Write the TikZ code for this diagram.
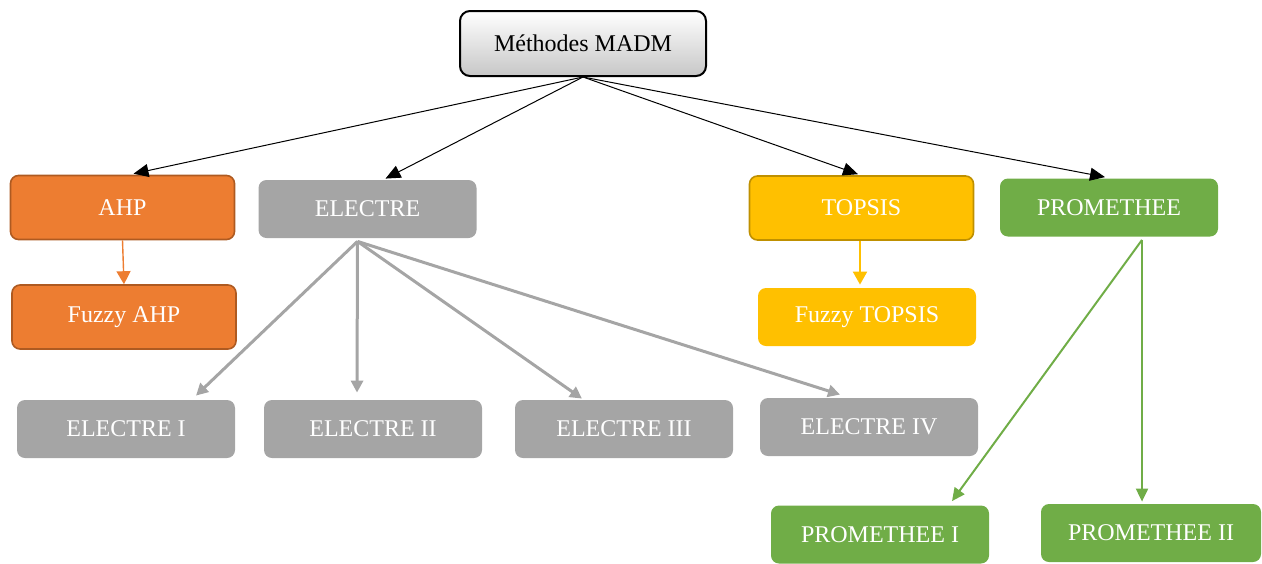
\documentclass[tikz,border=0pt]{standalone}
\usepackage{fontspec}
\setmainfont{Liberation Serif}
\usetikzlibrary{arrows.meta,calc,positioning}
\definecolor{orangeF}{HTML}{ED7D31}
\definecolor{orangeD}{HTML}{AE5A21}
\definecolor{grayF}{HTML}{A5A5A5}
\definecolor{yellowF}{HTML}{FFC000}
\definecolor{yellowD}{HTML}{BF9000}
\definecolor{greenF}{HTML}{70AD47}
\tikzset{
  box/.style={rounded corners=4pt, minimum width=#1, inner sep=0pt, font=\fontsize{12}{14}\selectfont, text=white},
  box/.default=109pt,
  orangebox/.style={box=112pt, fill=orangeF, draw=orangeD, line width=0.8pt, minimum height=32pt},
  graybox/.style={box=109pt, fill=grayF, minimum height=29pt},
  yellowbox/.style={box=112pt, fill=yellowF, draw=yellowD, line width=0.8pt, minimum height=32pt},
  yellowflat/.style={box=109pt, fill=yellowF, minimum height=29pt},
  greenbox/.style={box=109pt, fill=greenF, minimum height=29pt},
  topbox/.style={rounded corners=5pt, draw=black, line width=1pt, top color=white, middle color=black!3, bottom color=black!22, minimum width=123pt, minimum height=32.5pt, font=\fontsize{12}{14}\selectfont, text=black},
  blackarrow/.style={draw=black, line width=0.5pt, -{Triangle[length=7.5pt,width=6.5pt]}},
  orangearrow/.style={draw=orangeF, line width=0.7pt, -{Triangle[length=6.5pt,width=7pt]}},
  grayarrow/.style={draw=grayF, line width=1.5pt, -{Triangle[length=6pt,width=6pt]}},
  yellowarrow/.style={draw=yellowF, line width=1pt, -{Triangle[length=6.5pt,width=7pt]}},
  greenarrow/.style={draw=greenF, line width=1pt, -{Triangle[length=6.5pt,width=6pt]}},
}
\begin{document}
\begin{tikzpicture}[x=0.5pt,y=-0.5pt]
\useasboundingbox (0,0) rectangle (1262,563);
\node[topbox] (top) at (583,43.5) {Méthodes MADM};
\node[orangebox] (ahp) at (122.5,207.5) {AHP};
\node[orangebox] (fahp) at (124,317) {Fuzzy AHP};
\node[graybox] (el) at (367.5,209) {ELECTRE};
\node[yellowbox] (top2) at (861.5,208) {TOPSIS};
\node[yellowflat] (ftop) at (867,317) {Fuzzy TOPSIS};
\node[greenbox] (pro) at (1109,207.5) {PROMETHEE};
\node[graybox] (e1) at (126,429) {ELECTRE I};
\node[graybox] (e2) at (373,429) {ELECTRE II};
\node[graybox] (e3) at (624,429) {ELECTRE III};
\node[graybox] (e4) at (869,427) {ELECTRE IV};
\node[greenbox] (p1) at (880,534.5) {PROMETHEE I};
\node[greenbox, minimum width=110pt] (p2) at (1151,533) {PROMETHEE II};

\coordinate (elout) at ([xshift=-5pt,yshift=-1.5pt]el.south);
\coordinate (proout) at ([xshift=16.5pt,yshift=-1.5pt]pro.south);

\draw[blackarrow] (top.south) -- ([xshift=5.5pt,yshift=0.5pt]ahp.north);
\draw[blackarrow] (top.south) -- ([xshift=9pt,yshift=0.5pt]el.north);
\draw[blackarrow] (top.south) -- ([xshift=-1.75pt,yshift=0.5pt]top2.north);
\draw[blackarrow] (top.south) -- ([xshift=-2pt,yshift=0.5pt]pro.north);

\draw[orangearrow] (ahp.south) -- (fahp.north);
\draw[yellowarrow] ([xshift=-0.75pt]top2.south) -- ([xshift=-3.5pt,yshift=1.5pt]ftop.north);

\draw[grayarrow] (elout) -- ([xshift=35pt,yshift=2pt]e1.north);
\draw[grayarrow] (elout) -- ([xshift=-8pt,yshift=3.5pt]e2.north);
\draw[grayarrow] (elout) -- ([xshift=-21pt,yshift=0.5pt]e3.north);
\draw[grayarrow] (elout) -- ([xshift=-14.5pt,yshift=1.5pt]e4.north);

\draw[greenarrow] (proout) -- ([xshift=36pt,yshift=2pt]p1.north);
\draw[greenarrow] (proout) -- ([xshift=-4.5pt,yshift=1pt]p2.north);
\end{tikzpicture}
\end{document}
